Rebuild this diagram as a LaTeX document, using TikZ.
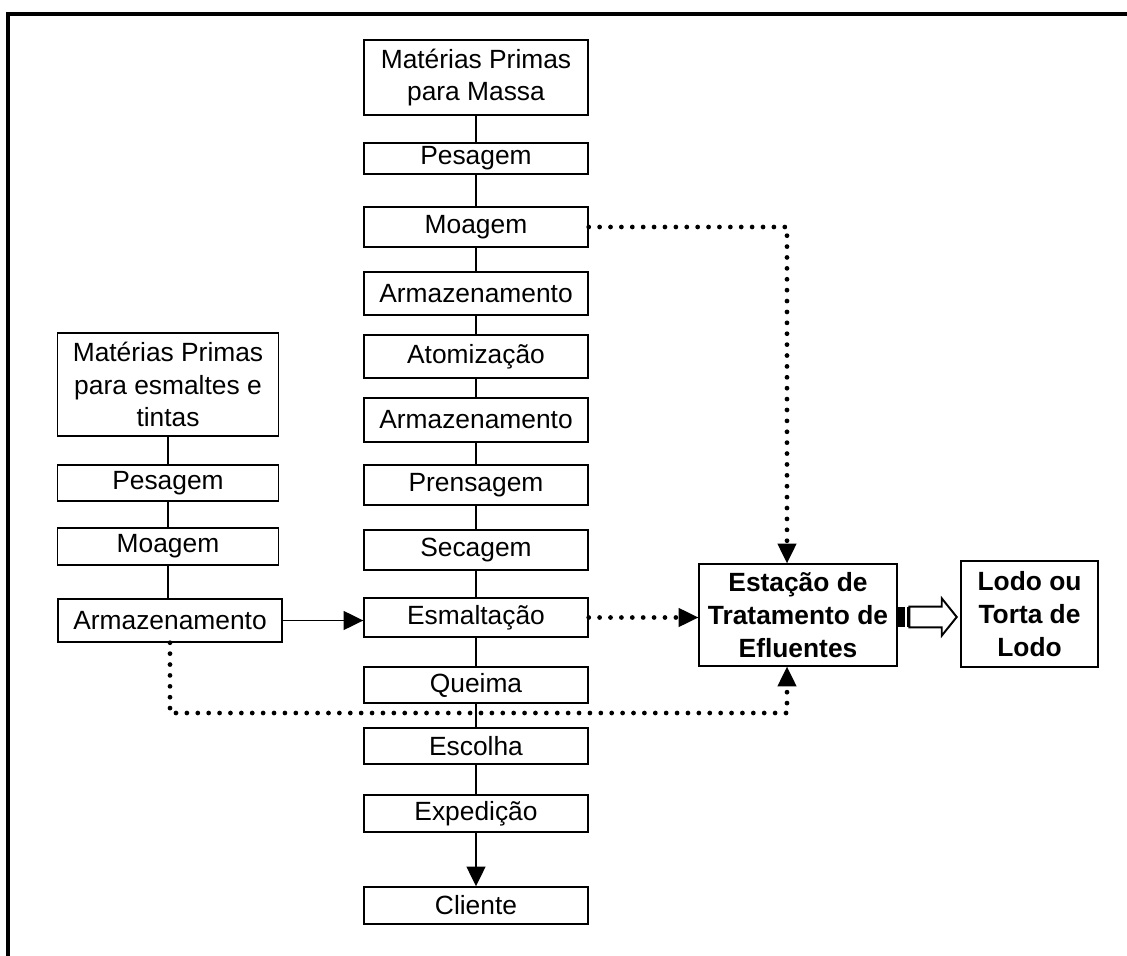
\documentclass[tikz,border=0pt]{standalone}
\usepackage{fontspec}
\setmainfont{Liberation Sans}
\usepackage{tikz}
\usetikzlibrary{arrows.meta, calc}

\begin{document}
\begin{tikzpicture}[x=0.02cm, y=-0.02cm,
    box/.style={draw, line width=0.85pt, inner sep=0pt, align=center,
      font=\fontsize{15}{18.6}\selectfont},
    boldbox/.style={box, font=\fontsize{15}{18.6}\selectfont\bfseries},
    link/.style={line width=0.6pt},
    dotline/.style={line width=2.7pt, line cap=round, dash pattern=on 0pt off 6.2pt},
    tip/.style={-{Triangle[length=11.2pt, width=11pt, line width=0pt]}}]
    \useasboundingbox (0,0) rectangle (1127,956);
    % Frame
    \draw[line width=2.3pt] (6,14) -- (1127,14);
    \draw[line width=2.3pt] (8,12) -- (8,956);

    % Massa
    \node[box, minimum width=4.48cm, minimum height=1.5cm] (mpm) at (476,77.5) {Matérias Primas\\para Massa};
    \node[box, minimum width=4.48cm, minimum height=0.62cm] (pes1) at (476,158.5) {Pesagem};
    \node[box, minimum width=4.48cm, minimum height=0.8cm] (moa1) at (476,227) {Moagem};
    \node[box, minimum width=4.48cm, minimum height=0.86cm] (arm1) at (476,293.5) {Armazenamento};
    \node[box, minimum width=4.48cm, minimum height=0.86cm] (ato) at (476,356.5) {Atomização};
    \node[box, minimum width=4.48cm, minimum height=0.88cm] (arm2) at (476,420) {Armazenamento};
    \node[box, minimum width=4.48cm, minimum height=0.8cm] (pre) at (476,485) {Prensagem};
    \node[box, minimum width=4.48cm, minimum height=0.8cm] (sec) at (476,550) {Secagem};
    \node[box, minimum width=4.48cm, minimum height=0.78cm] (esm) at (476,617.5) {Esmaltação};
    \node[box, minimum width=4.48cm, minimum height=0.72cm] (que) at (476,685) {Queima};
    \node[box, minimum width=4.48cm, minimum height=0.72cm] (esc) at (476,746) {Escolha};
    \node[box, minimum width=4.48cm, minimum height=0.74cm] (exp) at (476,813.5) {Expedição};
    \node[box, minimum width=4.48cm, minimum height=0.74cm] (cli) at (476,905.5) {Cliente};

    % Esmaltes e tintas
    \node[box, minimum width=4.42cm, minimum height=2.06cm] (mpe) at (168,384.5) {Matérias Primas\\para esmaltes e\\tintas};
    \node[box, minimum width=4.42cm, minimum height=0.72cm] (pes2) at (168,483) {Pesagem};
    \node[box, minimum width=4.42cm, minimum height=0.74cm] (moa2) at (168,546.5) {Moagem};
    \node[box, minimum width=4.48cm, minimum height=0.86cm] (arm3) at (170,620.5) {Armazenamento};

    % Efluentes
    \node[boldbox, minimum width=3.96cm, minimum height=2.04cm] (ete) at (798,615) {Estação de\\Tratamento de\\Efluentes};
    \node[boldbox, minimum width=2.74cm, minimum height=2.12cm] (lodo) at (1029.5,614) {Lodo ou\\Torta de\\Lodo};

    \foreach \a/\b in {mpm/pes1, pes1/moa1, moa1/arm1, arm1/ato, ato/arm2, arm2/pre,
                       pre/sec, sec/esm, esm/que, que/esc, esc/exp, mpe/pes2, pes2/moa2, moa2/arm3}
      \draw[link] (\a.south) -- (\a.south |- \b.north);
    \draw[link, tip] (exp) -- (cli);
    \draw[link, tip] (arm3.east) -- (arm3.east -| esm.west);

    % dotted flows
    \coordinate (c1) at (787,228);
    \coordinate (c2) at (787,713);
    \draw[dotline, tip] (moa1.east) -| (ete.north -| c1);
    \draw[dotline, tip] (esm.east) -- (esm.east -| ete.west);
    \draw[dotline, tip] (arm3.south) |- (c2) -- (ete.south -| c2);

    % hollow arrow
    \coordinate (h) at ($(ete.east)+(0,2)$);
    \fill (h) ++(0,-10.3) rectangle ++(7.3,20.6);
    \fill (h) ++(9,-10.3) rectangle ++(2.6,20.6);
    \draw[line width=1.1pt] (h) ++(11.6,-10.3) -- ++(32.4,0) -- ++(0,-8.4) -- ++(15,18.7)
      -- ++(-15,18.7) -- ++(0,-8.4) -- ++(-32.4,0) -- cycle;
\end{tikzpicture}
\end{document}
